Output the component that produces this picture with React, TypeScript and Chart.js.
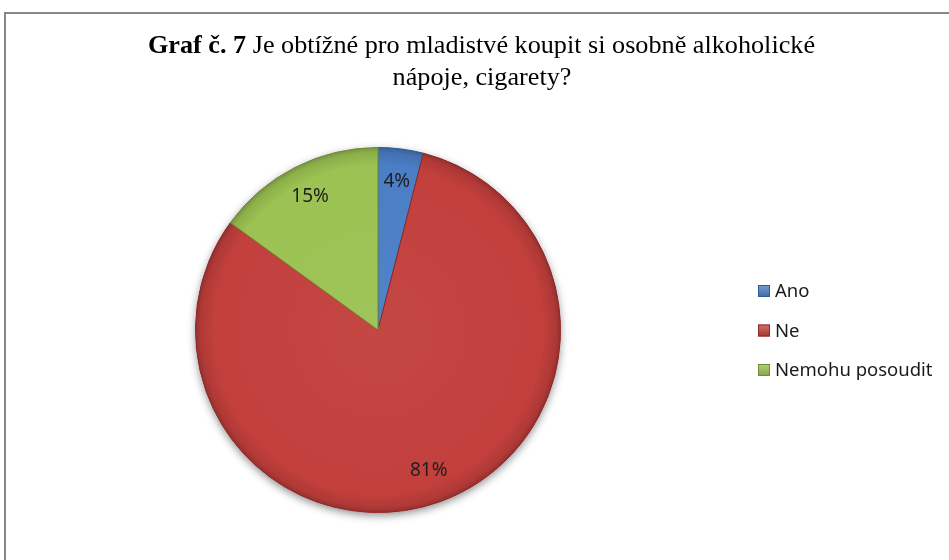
import { useEffect, useRef } from "react";
import { Chart, registerables } from "chart.js";

Chart.register(...registerables);

const categories = ["Ano", "Ne", "Nemohu posoudit"];
const values = [4, 81, 15];
const valueLabels = ["4%", "81%", "15%"];
const colors = ["#4A7EC6", "#C23F3C", "#9BC252"];
const edgeColors = ["#2F5C96", "#8E2A28", "#6F8F36"];
const titleBold = "Graf č. 7";
const titleRest = " Je obtížné pro mladistvé koupit si osobně alkoholické";
const titleLine2 = "nápoje, cigarety?";

function shade(hex: string, amt: number): string {
  const n = parseInt(hex.slice(1), 16);
  const r = (n >> 16) & 255, g = (n >> 8) & 255, b = n & 255;
  const f = (c: number) => {
    const v = amt >= 0 ? c + (255 - c) * amt : c * (1 + amt);
    return Math.max(0, Math.min(255, Math.round(v)));
  };
  return `rgb(${f(r)},${f(g)},${f(b)})`;
}

const framePlugin = {
  id: "frame",
  beforeDraw(chart: any) {
    const ctx = chart.ctx;
    ctx.save();
    ctx.fillStyle = "#ffffff";
    ctx.fillRect(0, 0, chart.width, chart.height);
    ctx.strokeStyle = "#878787";
    ctx.lineWidth = 2;
    ctx.strokeRect(5, 13, chart.width + 20, chart.height + 20);
    ctx.restore();
  },
};

const titlePlugin = {
  id: "mixedTitle",
  afterDraw(chart: any) {
    const ctx = chart.ctx;
    ctx.save();
    ctx.fillStyle = "#000000";
    ctx.textBaseline = "alphabetic";
    ctx.textAlign = "left";
    const boldFont = "bold 26px 'Liberation Serif'";
    const normFont = "26px 'Liberation Serif'";
    ctx.font = boldFont;
    const wb = ctx.measureText(titleBold).width;
    ctx.font = normFont;
    const wr = ctx.measureText(titleRest).width;
    const w2 = ctx.measureText(titleLine2).width;
    const target = 667;
    const sx = target / (wb + wr);
    ctx.save();
    ctx.translate(481.5 - target / 2, 53);
    ctx.scale(sx, 1);
    ctx.font = boldFont;
    ctx.fillText(titleBold, 0, 0);
    ctx.font = normFont;
    ctx.fillText(titleRest, wb, 0);
    ctx.restore();
    ctx.save();
    ctx.translate(482 - (w2 * sx) / 2, 85);
    ctx.scale(sx, 1);
    ctx.font = normFont;
    ctx.fillText(titleLine2, 0, 0);
    ctx.restore();
    ctx.restore();
  },
};

const shadowPlugin = {
  id: "pieShadow",
  beforeDatasetsDraw(chart: any) {
    const arc = chart.getDatasetMeta(0).data[0];
    if (!arc) return;
    const { x, y, outerRadius } = arc.getProps(["x", "y", "outerRadius"], true);
    const ctx = chart.ctx;
    ctx.save();
    ctx.shadowColor = "rgba(0,0,0,0.45)";
    ctx.shadowBlur = 8;
    ctx.shadowOffsetY = 3;
    ctx.beginPath();
    ctx.arc(x, y, outerRadius, 0, Math.PI * 2);
    ctx.fillStyle = "#9a3230";
    ctx.fill();
    ctx.restore();
  },
};

const labelPlugin = {
  id: "sliceLabels",
  afterDatasetsDraw(chart: any) {
    const ctx = chart.ctx;
    const meta = chart.getDatasetMeta(0);
    ctx.save();
    ctx.font = "19px 'Noto Sans'";
    ctx.fillStyle = "#1F1F1F";
    ctx.textAlign = "center";
    ctx.textBaseline = "middle";
    meta.data.forEach((arc: any, i: number) => {
      const { x, y, startAngle, endAngle, outerRadius } = arc.getProps(
        ["x", "y", "startAngle", "endAngle", "outerRadius"],
        true
      );
      const mid = (startAngle + endAngle) / 2;
      const r = outerRadius * 0.82;
      ctx.fillText(valueLabels[i], x + Math.cos(mid) * r, y + Math.sin(mid) * r);
    });
    ctx.restore();
  },
};

const legendPlugin = {
  id: "sideLegend",
  afterDraw(chart: any) {
    const ctx = chart.ctx;
    const labels = chart.data.labels as string[];
    const bx = 758;
    const tx = 775;
    const baseY = 297;
    const step = 39.5;
    ctx.save();
    ctx.font = "18.5px 'Noto Sans'";
    ctx.textAlign = "left";
    ctx.textBaseline = "alphabetic";
    labels.forEach((lab, i) => {
      const by = baseY + i * step;
      const g = ctx.createLinearGradient(0, by - 12, 0, by);
      g.addColorStop(0, shade(colors[i], 0.25));
      g.addColorStop(1, shade(colors[i], -0.15));
      ctx.fillStyle = g;
      ctx.fillRect(bx, by - 12, 12, 12);
      ctx.strokeStyle = edgeColors[i];
      ctx.lineWidth = 1;
      ctx.strokeRect(bx + 0.5, by - 11.5, 11, 11);
      ctx.fillStyle = "#1a1a1a";
      ctx.fillText(lab, tx, by);
    });
    ctx.restore();
  },
};

export default function App() {
  const ref = useRef<HTMLCanvasElement | null>(null);
  useEffect(() => {
    document.body.style.margin = "0";
    const canvas = ref.current;
    if (!canvas) return;
    const chart = new Chart(canvas, {
      type: "pie",
      data: {
        labels: categories,
        datasets: [
          {
            data: values,
            backgroundColor: (c: any) => {
              const i = c.dataIndex;
              const area = c.chart.chartArea;
              if (!area) return colors[i];
              const cx = (area.left + area.right) / 2;
              const cy = (area.top + area.bottom) / 2;
              const R = Math.min(area.width, area.height) / 2;
              const g = c.chart.ctx.createRadialGradient(cx, cy, 0, cx, cy, R);
              g.addColorStop(0, shade(colors[i], 0.04));
              g.addColorStop(0.9, colors[i]);
              g.addColorStop(0.97, shade(colors[i], -0.1));
              g.addColorStop(1, shade(colors[i], -0.25));
              return g;
            },
            borderColor: edgeColors,
            borderWidth: 1,
          },
        ],
      },
      options: {
        animation: false,
        responsive: false,
        devicePixelRatio: 1,
        rotation: 0,
        layout: { padding: { left: 195, top: 147, right: 388, bottom: 47 } },
        plugins: {
          legend: { display: false },
          title: { display: false },
          tooltip: { enabled: false },
        },
      },
      plugins: [framePlugin, shadowPlugin, labelPlugin, legendPlugin, titlePlugin],
    });
    return () => chart.destroy();
  }, []);
  return (
    <div style={{ width: 949, height: 560 }}>
      <canvas ref={ref} width={949} height={560} />
    </div>
  );
}
